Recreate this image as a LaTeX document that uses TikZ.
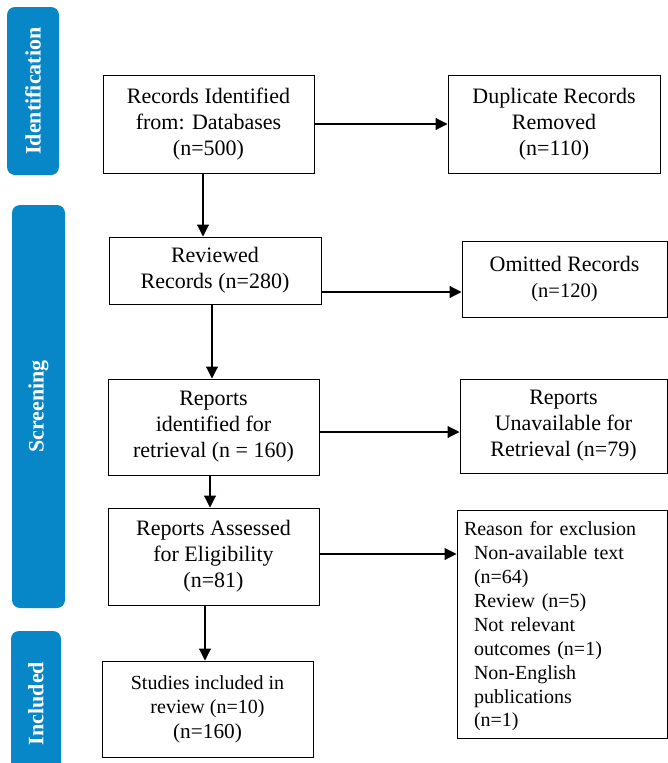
\documentclass[tikz,border=0pt]{standalone}
\usepackage{fontspec}
\setmainfont{Liberation Serif}
\usepackage{tikz}
\usetikzlibrary{arrows,arrows.meta}
\usetikzlibrary{positioning}

\definecolor{phaseblue}{HTML}{0787C8}

\begin{document}
\begin{tikzpicture}[x=1pt,y=-1pt,
        box/.style={draw, line width=1pt, align=center, inner sep=2pt,
            font=\fontsize{22}{26}\selectfont},
        phase/.style={fill=phaseblue, rounded corners=8pt, text=white,
            rotate=90, font=\fontsize{22}{26}\selectfont\bfseries},
        arr/.style={-{Triangle[length=12pt,width=12pt]}, line width=1.1pt}]
            \path[use as bounding box, clip] (0,0) rectangle (668,763);

            % phase bars
            \node[phase, minimum width=168pt, minimum height=52pt] (idn) at (33,91) {Identification};
            \node[phase, minimum width=403pt, minimum height=53pt] (scr) at (38.5,406.5) {Screening};
            \node[phase, minimum width=145pt, minimum height=50pt] (inc) at (36,703.5) {Included};

            % boxes
            \node[box, minimum width=211pt, minimum height=98pt] (rec) at (208.5,124)
                {Records Identified\\from: Databases\\(n=500)};
            \node[box, minimum width=212pt, minimum height=98pt] (dup) at (554,124)
                {Duplicate Records\\Removed\\(n=110)};
            \node[box, minimum width=212pt, minimum height=67pt] (rev) at (215,270.5)
                {Reviewed\\Records (n=280)};
            \node[box, minimum width=205pt, minimum height=76pt] (omit) at (564.5,279)
                {Omitted Records\\{\fontsize{20.5}{24}\selectfont (n=120)}};
            \node[box, minimum width=211pt, minimum height=96pt] (rep) at (213.5,427)
                {Reports\\identified for\\retrieval (n = 160)};
            \node[box, minimum width=207pt, minimum height=94pt] (unav) at (563.5,426)
                {Reports\\Unavailable for\\Retrieval (n=79)};
            \node[box, minimum width=211pt, minimum height=97pt] (assess) at (213.5,556.5)
                {Reports Assessed\\for Eligibility\\(n=81)};
            \node[box, minimum width=210pt, minimum height=228pt, text width=196pt, align=left,
                font=\fontsize{20}{23.9}\selectfont] (excl) at (562,624)
                {\rule{0pt}{19pt}Reason for exclusion\\
                \hspace*{10pt}Non-available text\\
                \hspace*{10pt}(n=64)\\
                \hspace*{10pt}Review (n=5)\\
                \hspace*{10pt}Not relevant\\
                \hspace*{10pt}outcomes (n=1)\\
                \hspace*{10pt}Non-English\\
                \hspace*{10pt}publications\\
                \hspace*{10pt}(n=1)};
            \node[box, minimum width=211pt, minimum height=96pt,
                font=\fontsize{20}{24.5}\selectfont] (incl) at (207.5,709)
                {Studies included in\\review (n=10)\\{\fontsize{21.3}{24.5}\selectfont (n=160)}};

            % connectors
            \draw[arr] (rec.east) -- (dup.west);
            \draw[arr] ([yshift=-21.5pt]rev.east) -- ([yshift=-21.5pt]rev.east -| omit.west);
            \draw[arr] ([yshift=-5pt]rep.east) -- ([yshift=-5pt]rep.east -| unav.west);
            \draw[arr] ([yshift=2.5pt]assess.east) -- ([yshift=2.5pt]assess.east -| excl.west);
            \draw[arr] ([xshift=-5.5pt]rec.south) -- ([xshift=-5.5pt]rec.south |- rev.north);
            \draw[arr] ([xshift=-3pt]rev.south) -- ([xshift=-3pt]rev.south |- rep.north);
            \draw[arr] ([xshift=-3.5pt]rep.south) -- ([xshift=-3.5pt]rep.south |- assess.north);
            \draw[arr] ([xshift=-8.5pt]assess.south) -- ([xshift=-8.5pt]assess.south |- incl.north);
        \end{tikzpicture}
\end{document}
